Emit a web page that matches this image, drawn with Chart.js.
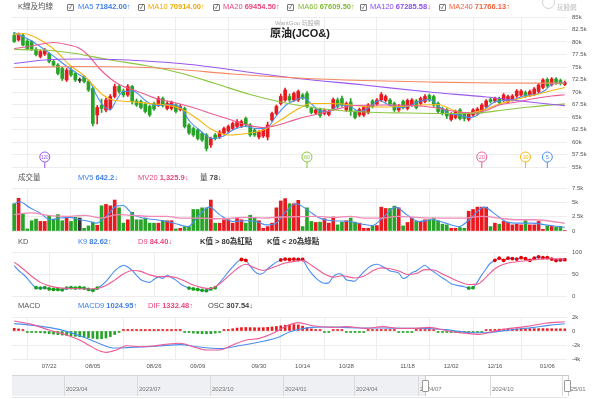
<!DOCTYPE html>
<html><head><meta charset="utf-8">
<script src="https://cdn.jsdelivr.net/npm/chart.js@4.4.1/dist/chart.umd.min.js"></script>
<style>
html,body{margin:0;padding:0;background:#fff;}
#wrap{position:relative;width:599px;height:399px;overflow:hidden;font-family:"Liberation Sans","Noto Sans CJK TC",Arial,sans-serif;}
canvas{position:absolute;left:0;top:0;}
.t{position:absolute;white-space:nowrap;font-size:7.5px;line-height:10px;color:#555;z-index:5;}
.t b{font-weight:bold;}
.cb{position:absolute;width:5px;height:5px;border:1px solid #777;border-radius:1px;z-index:5;font-size:6px;line-height:5px;text-align:center;color:#444;}
.nav{position:absolute;z-index:5;}
.navl{position:absolute;font-size:6px;line-height:8px;color:#777;white-space:nowrap;z-index:6;}
</style></head>
<body><div id="wrap">
<canvas id="cPrice" width="599" height="399"></canvas>
<canvas id="cVol" width="599" height="399"></canvas>
<canvas id="cKD" width="599" height="399"></canvas>
<canvas id="cMacd" width="599" height="399"></canvas>

<div class="t" style="left:18px;top:2px;">K線及均線</div>
<div class="cb" style="left:67px;top:4px;">✓</div><div class="t" style="left:78px;top:2px;color:#3d7ee8">MA5 <b>71842.00</b>↑</div>
<div class="cb" style="left:138px;top:4px;">✓</div><div class="t" style="left:148px;top:2px;color:#f2a900">MA10 <b>70914.00</b>↑</div>
<div class="cb" style="left:213px;top:4px;">✓</div><div class="t" style="left:223px;top:2px;color:#e8467e">MA20 <b>69454.50</b>↑</div>
<div class="cb" style="left:287px;top:4px;">✓</div><div class="t" style="left:298px;top:2px;color:#7dbb2c">MA60 <b>67609.50</b>↑</div>
<div class="cb" style="left:360px;top:4px;">✓</div><div class="t" style="left:370px;top:2px;color:#8c4fee">MA120 <b>67285.58</b>↓</div>
<div class="cb" style="left:439px;top:4px;">✓</div><div class="t" style="left:449px;top:2px;color:#f2623c">MA240 <b>71766.13</b>↑</div>

<div class="t" style="left:275px;top:18px;font-size:6px;color:#aaa;">WantGoo 玩股網</div>
<div class="t" style="left:270px;top:27px;font-size:11px;line-height:13px;font-weight:bold;color:#222;">原油(JCO&amp;)</div>
<div class="t" style="left:557px;top:3px;font-size:6.5px;color:#bbb;">玩股網</div>
<div class="nav" style="left:542px;top:-4px;width:11px;height:11px;border:1px solid #d0d0d0;border-radius:50%;"></div>

<div class="t" style="left:18px;top:173px;">成交量</div>
<div class="t" style="left:78px;top:173px;color:#3d7ee8">MV5 <b>642.2</b>↓</div>
<div class="t" style="left:138px;top:173px;color:#e8467e">MV20 <b>1,325.9</b>↓</div>
<div class="t" style="left:200px;top:173px;color:#444">量 <b>78</b>↓</div>

<div class="t" style="left:18px;top:237px;">KD</div>
<div class="t" style="left:78px;top:237px;color:#3d7ee8">K9 <b>82.62</b>↑</div>
<div class="t" style="left:138px;top:237px;color:#e8467e">D9 <b>84.40</b>↓</div>
<div class="t" style="left:200px;top:237px;color:#333"><b>K值 &gt; 80為紅點</b></div>
<div class="t" style="left:267px;top:237px;color:#333"><b>K值 &lt; 20為綠點</b></div>

<div class="t" style="left:18px;top:301px;">MACD</div>
<div class="t" style="left:78px;top:301px;color:#3d7ee8">MACD9 <b>1024.95</b>↑</div>
<div class="t" style="left:148px;top:301px;color:#e8467e">DIF <b>1332.48</b>↑</div>
<div class="t" style="left:208px;top:301px;color:#444">OSC <b>307.54</b>↓</div>

<div id="navBox"></div>
</div>
<script>
// ---------------- DATA ----------------
const TICK_IDX = [8,18,32,42,56,66,76,90,100,110,122];
const TICK_LABELS = ['07/22','08/05','08/26','09/09','09/30','10/14','10/28','11/18','12/02','12/16','01/06'];

const O = [81300,80400,81300,80200,80100,78500,77100,77600,77700,76100,75400,74700,72400,74400,73700,72300,73100,72100,70700,65400,
67300,66400,66700,69100,71100,70200,69400,71100,68200,68100,67500,67100,67700,67400,68700,66700,66700,67400,66500,66700,
63400,62700,62400,61700,61400,59400,61400,61000,61800,62200,62700,63100,63200,64700,63400,62400,61000,61200,61000,64400,
65700,67700,68400,69100,68400,68400,69400,69700,66700,65800,66500,65700,65500,66700,68400,68700,66400,68000,66000,65400,
65400,65900,68200,67600,68400,68300,68400,67700,66400,68100,66700,67400,68200,67700,68100,69300,69100,67700,66700,66400,
64500,64900,66400,65600,64500,65400,65700,66100,67100,68500,68200,68700,68400,68100,68500,69200,69400,69900,69400,69600,
70100,70900,72500,71500,72600,72300,71500];
const C = [80100,81500,79400,78700,78600,77500,78100,78400,76100,75400,73700,72700,74400,73400,72400,72300,72100,70400,63700,66900,
66700,68400,69100,71100,70100,69400,71100,68100,67400,66900,66100,65400,66600,68700,67300,67700,67900,66100,67100,63100,
61800,61400,60700,60400,58700,60700,60700,62000,62700,63100,63700,64100,64100,63400,61400,61400,62000,62400,63400,65700,
67100,69100,70400,68400,69700,70100,68800,67100,65900,66400,65300,66300,66100,68500,67100,67400,67700,66100,64900,66500,
66900,67400,67100,68400,69500,69100,67600,66400,67200,66900,68300,68400,66900,68700,69100,68400,67400,66100,65700,65200,
65600,66100,64700,64700,65600,66400,66600,67400,68200,68100,68700,67900,69400,69100,69200,70200,70200,69200,70100,70600,
71400,72400,71200,72600,71900,71700,71900];
const H = [81900,81800,81600,80500,80300,78900,78400,78700,77900,76400,75700,75000,74700,74900,74000,72800,73300,72400,71000,67300,
68600,68800,69500,71600,71500,70600,71500,71300,68600,68400,67900,67400,68000,69100,69000,68100,68200,67700,67500,67000,
63700,63000,62700,62000,61700,61000,61700,62300,63000,63400,64000,64500,64400,65000,63700,62700,62300,62700,64000,66000,
67400,69600,70800,69600,70000,70400,69700,70100,67000,66700,66800,66600,66400,68800,68800,69200,68000,68700,66300,66800,
67200,67700,68500,68700,69900,69400,68700,68000,67500,68400,68600,68700,68500,69000,69500,69600,69400,68000,67000,66700,
65900,66400,66700,65900,65900,66700,66900,67700,68500,68800,69000,69000,69700,69400,69500,70500,70500,70200,70400,70900,
71700,72700,72800,72900,72900,72600,72200];
const L = [79900,80200,79200,78400,78300,77200,76800,77300,75800,75100,73400,72300,72100,73100,72100,71900,71800,70100,63200,63600,
65900,66000,66400,68800,69700,69000,69100,67600,67100,66600,65800,65100,66300,67100,67000,66400,66400,65800,66200,62800,
61500,61100,60400,60100,58200,58900,60400,60700,61500,61900,62400,62800,62900,63100,61100,61100,60600,60900,60400,64100,
65400,67400,68100,68100,68100,68100,68500,66800,65600,65500,64900,65400,65200,66400,66800,67100,66100,65300,64600,65100,
65100,65600,66800,67300,68100,68000,67300,66100,66100,66600,66400,67100,66600,67400,67800,68100,67100,65800,65400,64700,
64200,64600,64400,64200,64200,65100,65400,65800,66800,67800,67900,67600,68100,67800,68200,68900,69100,68900,69100,69300,
69800,70600,70900,71200,71500,71400,71300];
const VOL = [4760,5700,2980,360,1790,2080,1670,1670,2740,2080,2860,1790,2380,1670,2380,2260,480,890,1550,1000,
4400,4640,4400,5400,4040,1370,1960,3270,1960,1960,2260,1370,1370,1370,1850,1790,1790,360,480,770,
770,3750,3750,4040,4040,5400,1370,1370,1960,1960,1370,2260,1960,1370,2740,2380,1790,480,770,1370,
4040,5240,5650,4760,4760,5350,770,4040,1670,1490,1550,2140,1370,2440,1070,1550,1790,2260,1550,1370,
480,480,890,950,4160,3930,3930,4340,4050,890,1490,2260,1670,1670,1960,1960,2260,1790,1190,1070,
480,480,600,480,3450,3750,4160,4160,4160,770,1370,1190,1670,1550,1070,1190,1070,1790,1070,1070,
1670,300,900,800,640,790,78];
const K = [69,58,50,40,28,19,18,19,16,15,15,14,18,19,18,19,18,15,13,18,
24,33,45,57,65,70,66,58,47,37,33,31,38,43,40,47,42,36,28,22,
18,16,15,13,12,16,19,30,42,55,66,77,83,81,68,56,50,52,62,70,
77,82,84,83,84,83,83,66,52,41,33,29,30,44,50,49,37,35,34,44,
55,64,70,72,69,63,57,55,52,40,44,53,57,64,70,62,55,48,41,35,
28,25,23,21,18,19,32,48,62,75,81,86,81,86,85,84,87,85,81,86,
89,87,87,84,80.5,82,82.62];
const OSC = [380,300,150,-80,-150,-200,-250,-300,-380,-450,-520,-580,-640,-700,-760,-820,-880,-950,-1050,-1120,
-1100,-1000,-800,-500,-200,100,180,200,150,120,60,30,50,100,130,160,180,150,60,-100,
-220,-300,-350,-380,-400,-380,-300,-150,50,200,320,420,480,500,480,470,460,480,520,580,
650,740,820,880,920,880,700,480,300,150,80,-30,-20,40,60,40,-50,-100,-120,-90,
-40,50,150,200,220,180,130,80,-20,-80,-60,-20,30,80,110,90,40,-30,-100,-160,
-200,-230,-250,-250,-240,-200,-150,-60,60,150,220,260,280,300,300,310,320,320,330,330,
340,340,330,320,310,310,308];

// indicator lines read at key points: [bar index, value]
const MA5 = [[0,81900],[3.6,80400],[6.6,78700],[9.7,76700],[12.7,74700],[15,73400],[17.3,72100],[18.8,69400],[20.3,67400],[21.9,66400],[23.4,68400],[24.9,70100],[27.1,70200],[30.3,68100],[32.5,67300],[35.6,67500],[37.8,67100],[40.2,64100],[42.4,62400],[45.4,60700],[47.7,61100],[50,62400],[53,63100],[55.3,62700],[57.6,62700],[59.9,65100],[62.2,67400],[64.5,68400],[66,68900],[68.3,67400],[69.5,66400],[72.1,66100],[74.4,67400],[76.7,67200],[79,66100],[81.2,66900],[83.5,68300],[85.8,67400],[88.1,66900],[90.4,67200],[92.6,68100],[95,68500],[97.2,67100],[99.5,65700],[101.8,65400],[104.1,64900],[105.6,65200],[107.9,66700],[110.2,68100],[112.4,68300],[114.7,68600],[117,69300],[119.3,69500],[121.6,70400],[123.1,71600],[126,71842]];
const MA10 = [[0,81500],[2,81700],[3.6,81400],[6.6,80100],[9.7,78100],[12.7,75400],[15.8,73400],[18,71400],[20.3,69400],[22.6,68400],[26.4,68100],[31,67700],[34.8,67400],[38,66700],[42,64600],[45,62600],[49,61400],[53,61700],[57,62400],[61,64400],[64.5,66400],[68,67700],[72,67700],[75,67600],[78,67300],[82,67000],[88,67100],[93,67400],[97,67500],[101,66200],[104,65800],[107,66300],[111,67600],[114,68300],[117,69000],[120,69600],[123,70300],[126,70914]];
const MA20 = [[0,78700],[4,79200],[7,79700],[9,79900],[12,79500],[15,78700],[17,77300],[19.5,74700],[22,72700],[24,71500],[26,70800],[29.5,69700],[32.5,68700],[35.5,68100],[38,67600],[42,66600],[45,65700],[49,64600],[53,63500],[57,62900],[60,63300],[63,64100],[66,64900],[70,65700],[73,66400],[78,67300],[85,67400],[91,67300],[96,66900],[101,66100],[105,65800],[108,66300],[111,67400],[115,68000],[119,68700],[123,69200],[126,69454]];
const MA60 = [[0,78500],[7,78400],[14,77700],[22,76400],[30,75300],[38,73800],[46,71700],[54,69500],[61,68000],[66,67200],[72,66500],[80,66000],[90,65800],[100,65700],[106,65800],[112,66400],[118,67000],[126,67609]];
const MA120 = [[0,75700],[7,76400],[15,76600],[23,76500],[30,76200],[38,75700],[46,74900],[55,73800],[65,72700],[80,71400],[95,70000],[108,69000],[114,68400],[120,67800],[126,67285]];
const MA240 = [[0,74900],[15,75100],[30,74900],[38,74500],[50,73600],[65,72800],[80,72300],[95,72000],[110,71800],[126,71766]];
const MV5 = [[0,4760],[1.3,5100],[3.6,4040],[5.9,3150],[8.2,1960],[10.5,2260],[12.7,2380],[15,1960],[17.3,1670],[18.8,1370],[21.1,2560],[23.4,4340],[24.9,4460],[27.2,2860],[29.5,2260],[32.5,1960],[35.6,1550],[37.9,1070],[39.8,770],[42.4,2860],[44.7,4160],[47,2860],[50,1670],[53.1,1790],[55.4,1670],[57.6,1070],[59.9,1370],[62.2,3450],[64.5,4760],[67.5,3450],[69.8,2260],[72.9,1790],[76.7,1670],[79.7,1190],[82,950],[84.3,2260],[87.3,4160],[89.6,2980],[92.6,1670],[95.7,1960],[98.7,1370],[101.8,770],[104.1,1960],[107.5,4160],[110.2,2860],[112.8,1550],[115.5,1370],[118.5,1370],[121.6,1070],[126,642]];
const MV20 = [[0,2860],[4,3150],[8,2680],[12,2560],[16,2740],[20,2260],[23.5,2860],[27,2740],[31,2560],[35,2560],[38,2260],[42,2260],[46,2140],[50,2260],[53,2380],[57,2260],[61,2440],[65,2500],[69,2560],[73,2380],[77,2560],[80,2260],[84,2260],[88,2560],[92,2380],[96,2260],[99,2260],[103,2260],[107,2560],[111,2260],[115,1960],[119,1960],[122,1790],[126,1326]];
const D = [[0,77],[2,62],[4,45],[6,31],[8,23],[10,19],[13,17],[17,16],[19,17],[21,24],[23,36],[25,50],[27,58],[29,56],[31,48],[33,44],[35,44],[37,42],[39,34],[41,25],[43,19],[45,17],[47,28],[49,45],[51,62],[53,72],[55,64],[57,58],[59,64],[62,75],[65,80],[66,81],[68,70],[71,50],[73,43],[75,46],[78,41],[80,45],[82,57],[84,64],[86,62],[88,57],[90,49],[92,51],[94,60],[96,59],[98,50],[101,36],[104,26],[106,27],[108,43],[110,62],[112,72],[115,78],[118,81],[122,84.5],[126,84.4]];
const DIF = [[0,1430],[4,950],[8,140],[12,-570],[15,-1290],[17,-2000],[19.6,-2860],[21.1,-3050],[23.4,-2710],[25.7,-2100],[28.7,-2240],[31.8,-2140],[34.8,-1900],[37.9,-1760],[40.9,-2240],[44,-2710],[47,-2710],[50,-2000],[53.1,-1290],[56.1,-1050],[59.2,-330],[62,600],[65,1200],[68.3,760],[72.9,520],[75.9,620],[80.5,380],[84.3,620],[88.1,380],[91.9,380],[94.9,520],[97.2,290],[100.3,-100],[103.3,-330],[106.3,-480],[109.4,-100],[112.4,290],[117,620],[121.6,1100],[126,1332]];
const MACD9 = [[0,1050],[4.4,810],[8.2,480],[12,-50],[15.8,-860],[19.6,-1810],[22.6,-2430],[25.7,-2380],[28.7,-2290],[33.3,-2140],[37.9,-1950],[42.4,-2290],[47,-2520],[51,-2150],[56.1,-1570],[60,-1000],[63,-140],[65.3,250],[69,560],[72.9,570],[76.7,480],[80.5,430],[84.3,430],[88.1,400],[91.9,380],[95.7,330],[98.7,190],[101.8,-50],[104.8,-240],[107.9,-240],[110.9,-50],[114.7,240],[118.5,480],[122.3,810],[126,1025]];

const MARK_PERIODS = [120,60,20,10,5];
const NAV_LABELS = ['2023/04','2023/07','2023/10','2024/01','2024/04','2024/07','2024/10','2025/01'];

// ---------------- STYLE ----------------
const UP = '#e8191f', DOWN = '#27a327', DOJI = '#333333';
const COL = {ma5:'#4a8ff0', ma10:'#f5b50e', ma20:'#ec5b94', ma60:'#8dc641', ma120:'#9a58ee', ma240:'#f58a62', mv20:'#f08ab6'};
const MARK_COLORS = [COL.ma120, COL.ma60, COL.ma20, COL.ma10, COL.ma5];
const GRID = '#ededed';
Chart.defaults.font.family = "'Liberation Sans', Arial, sans-serif";

const N = O.length;
const idx = O.map((_, i) => i);
const barCol = idx.map(i => C[i] > O[i] ? UP : (C[i] < O[i] ? DOWN : DOJI));
const pts = a => a.map(p => ({x: p[0], y: p[1]}));

function xScale(show) {
  return {
    type: 'linear', min: -0.5, max: N - 0.5, offset: false,
    grid: {color: GRID, drawTicks: false}, border: {display: false},
    afterBuildTicks: s => { s.ticks = TICK_IDX.map(v => ({value: v})); },
    afterFit: s => { s.height = show ? 14 : 0; },
    ticks: {display: show, autoSkip: false, maxRotation: 0, padding: 4, color: '#555', font: {size: 6},
      callback: (v, i) => TICK_LABELS[i]}
  };
}
function yScale(min, max, step, fmt) {
  return {
    position: 'right', min, max, grid: {color: GRID, drawTicks: false}, border: {display: false},
    afterFit: s => { s.width = 32; },
    ticks: {stepSize: step, padding: 5, color: '#555', font: {size: 6}, callback: fmt}
  };
}
const kfmt = v => v === 0 ? '0' : (v / 1000) + 'k';
function opts(y, top, bottom, showX) {
  return {
    responsive: false, animation: false, events: [], devicePixelRatio: 1,
    layout: {padding: {left: 12, right: 0, top, bottom}},
    plugins: {legend: {display: false}, tooltip: {enabled: false}},
    scales: {x: xScale(showX), y}
  };
}
function line(data, color, w) {
  return {type: 'line', data: pts(data), borderColor: color, borderWidth: w || 1.1, pointRadius: 0,
    cubicInterpolationMode: 'monotone', order: 0};
}

const markerPlugin = {
  id: 'markers',
  afterDatasetsDraw(chart) {
    const {ctx, chartArea} = chart, x = chart.scales.x;
    MARK_PERIODS.forEach((p, k) => {
      const px = x.getPixelForValue(N - p), cy = chartArea.bottom - 10, r = 5;
      ctx.save();
      ctx.strokeStyle = MARK_COLORS[k]; ctx.lineWidth = 1;
      ctx.beginPath(); ctx.moveTo(px, cy + r); ctx.lineTo(px, chartArea.bottom + 1); ctx.stroke();
      ctx.beginPath(); ctx.arc(px, cy, r, 0, Math.PI * 2); ctx.fillStyle = '#fff'; ctx.fill(); ctx.stroke();
      ctx.fillStyle = MARK_COLORS[k]; ctx.font = (p >= 100 ? '4.5px' : '5.5px') + " 'Liberation Sans', Arial";
      ctx.textAlign = 'center'; ctx.textBaseline = 'middle';
      ctx.fillText(String(p), px, cy + 0.5);
      ctx.restore();
    });
  }
};

// ---------------- PRICE ----------------
new Chart(document.getElementById('cPrice'), {
  type: 'bar',
  data: {datasets: [
    line(MA240, COL.ma240, 1.2), line(MA120, COL.ma120, 1.2), line(MA60, COL.ma60, 1.2),
    line(MA20, COL.ma20), line(MA10, COL.ma10), line(MA5, COL.ma5),
    {type: 'bar', data: idx.map(i => ({x: i, y: [L[i], H[i]]})), backgroundColor: barCol,
      barThickness: 1, grouped: false, order: 2},
    {type: 'bar', data: idx.map(i => ({x: i, y: [O[i], C[i]]})), backgroundColor: barCol,
      barThickness: 3, minBarLength: 1, grouped: false, order: 1}
  ]},
  options: opts(yScale(55000, 85000, 2500, kfmt), 17, 399 - 167, false),
  plugins: [markerPlugin]
});

// ---------------- VOLUME ----------------
new Chart(document.getElementById('cVol'), {
  type: 'bar',
  data: {datasets: [
    line(MV20, COL.mv20, 1.3), line(MV5, COL.ma5, 1.1),
    {type: 'bar', data: idx.map(i => ({x: i, y: VOL[i]})), backgroundColor: barCol,
      barThickness: 3, grouped: false, order: 1}
  ]},
  options: opts(yScale(0, 7500, 2500, kfmt), 188, 399 - 231, false)
});

// ---------------- KD ----------------
new Chart(document.getElementById('cKD'), {
  type: 'line',
  data: {datasets: [
    line(D, COL.ma20, 1.1),
    {type: 'line', data: idx.map(i => ({x: i, y: K[i]})), borderColor: COL.ma5, borderWidth: 1.1,
      tension: 0.3, order: 0,
      pointRadius: c => (c.raw.y > 80 || c.raw.y < 20) ? 1.9 : 0,
      pointBackgroundColor: c => c.raw.y > 80 ? '#e60000' : '#17a017',
      pointBorderWidth: 0}
  ]},
  options: opts(yScale(0, 100, 50, v => String(v)), 252, 399 - 296, false)
});

// ---------------- MACD ----------------
new Chart(document.getElementById('cMacd'), {
  type: 'bar',
  data: {datasets: [
    line(DIF, COL.ma20, 1.1), line(MACD9, COL.ma5, 1.1),
    {type: 'bar', data: idx.map(i => ({x: i, y: OSC[i]})),
      backgroundColor: idx.map(i => OSC[i] >= 0 ? UP : DOWN),
      barThickness: 2, minBarLength: 1.5, grouped: false, order: 1}
  ]},
  options: opts(yScale(-4000, 2000, 2000, kfmt), 317, 399 - 359 - 14, true)
});

// ---------------- NAVIGATOR (static decoration) ----------------
(function () {
  const box = document.getElementById('navBox');
  const sepX = [64, 137, 210, 283, 354, 418, 490, 562];
  let h = '';
  h += '<div class="nav" style="left:12px;top:375px;width:555px;height:21px;border-top:1px solid #d6d6d6;border-bottom:1px solid #e4e4e4;"></div>';
  h += '<div class="nav" style="left:12px;top:376px;width:413px;height:20px;background:#eef0f3;"></div>';
  h += '<div class="nav" style="left:425px;top:375px;width:142px;height:20px;border:1px solid #c9c9c9;border-bottom:none;"></div>';
  sepX.forEach((x, k) => {
    h += '<div class="nav" style="left:' + x + 'px;top:376px;width:1px;height:20px;background:#dadada;"></div>';
    h += '<div class="navl" style="left:' + (x + 2) + 'px;top:385px;">' + NAV_LABELS[k] + '</div>';
  });
  [425, 567].forEach(x => {
    h += '<div class="nav" style="left:' + (x - 3) + 'px;top:380px;width:5px;height:10px;background:#fff;border:1px solid #999;border-radius:1px;z-index:7;"></div>';
  });
  box.innerHTML = h;
})();
</script>
</body></html>
